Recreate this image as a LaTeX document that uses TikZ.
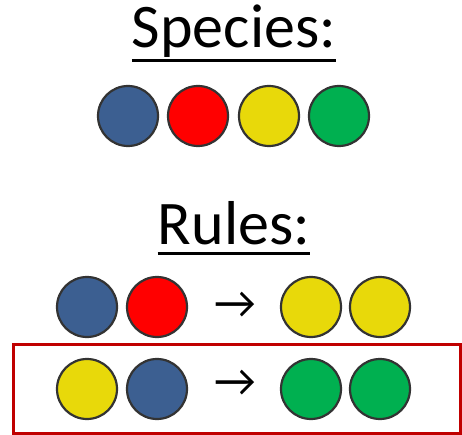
\documentclass[tikz,border=0pt]{standalone}
\usepackage{fontspec}
\setmainfont{Carlito}
\begin{document}
\begin{tikzpicture}[x=1pt,y=-1pt,
  ball/.style={circle,draw=black!80,line width=2.2pt,minimum size=60pt,inner sep=0pt},
  title/.style={font=\fontsize{62}{62}\selectfont,inner sep=0pt,anchor=base},
  arrowtxt/.style={font=\fontsize{46}{46}\selectfont,inner sep=0pt},
  uline/.style={line width=3pt}]
\definecolor{cblue}{HTML}{3C5F91}
\definecolor{cred}{HTML}{FF0000}
\definecolor{cyellow}{HTML}{E8D90A}
\definecolor{cgreen}{HTML}{00B050}
\definecolor{cframe}{HTML}{C00000}
\useasboundingbox (0,0) rectangle (462,435);

% heading: species
\node[title] (sp) at (234,48) {Species:};
\draw[uline] ([yshift=-13pt]sp.base west) -- ([yshift=-13pt]sp.base east);
\node[ball,fill=cblue]   (s1) at (128,116) {};
\node[ball,fill=cred]    (s2) at (198,116) {};
\node[ball,fill=cyellow] (s3) at (269,116) {};
\node[ball,fill=cgreen]  (s4) at (339,116) {};

% heading: rules
\node[title] (ru) at (234,244) {Rules:};
\draw[uline] ([yshift=-9pt]ru.base west) -- ([yshift=-9pt]ru.base east);

% rule 1
\node[ball,fill=cblue]   (a1) at (87,307) {};
\node[ball,fill=cred]    (a2) at (157,307) {};
\node[arrowtxt]          (ar1) at (235,305) {→};
\node[ball,fill=cyellow] (a3) at (311,307) {};
\node[ball,fill=cyellow] (a4) at (380,307) {};

% rule 2, framed
\draw[cframe,line width=3pt] (13,344.5) rectangle (460.5,433);
\node[ball,fill=cyellow] (b1) at (87,389) {};
\node[ball,fill=cblue]   (b2) at (157,389) {};
\node[arrowtxt]          (ar2) at (235,383) {→};
\node[ball,fill=cgreen]  (b3) at (311,389) {};
\node[ball,fill=cgreen]  (b4) at (380,389) {};
\end{tikzpicture}
\end{document}
